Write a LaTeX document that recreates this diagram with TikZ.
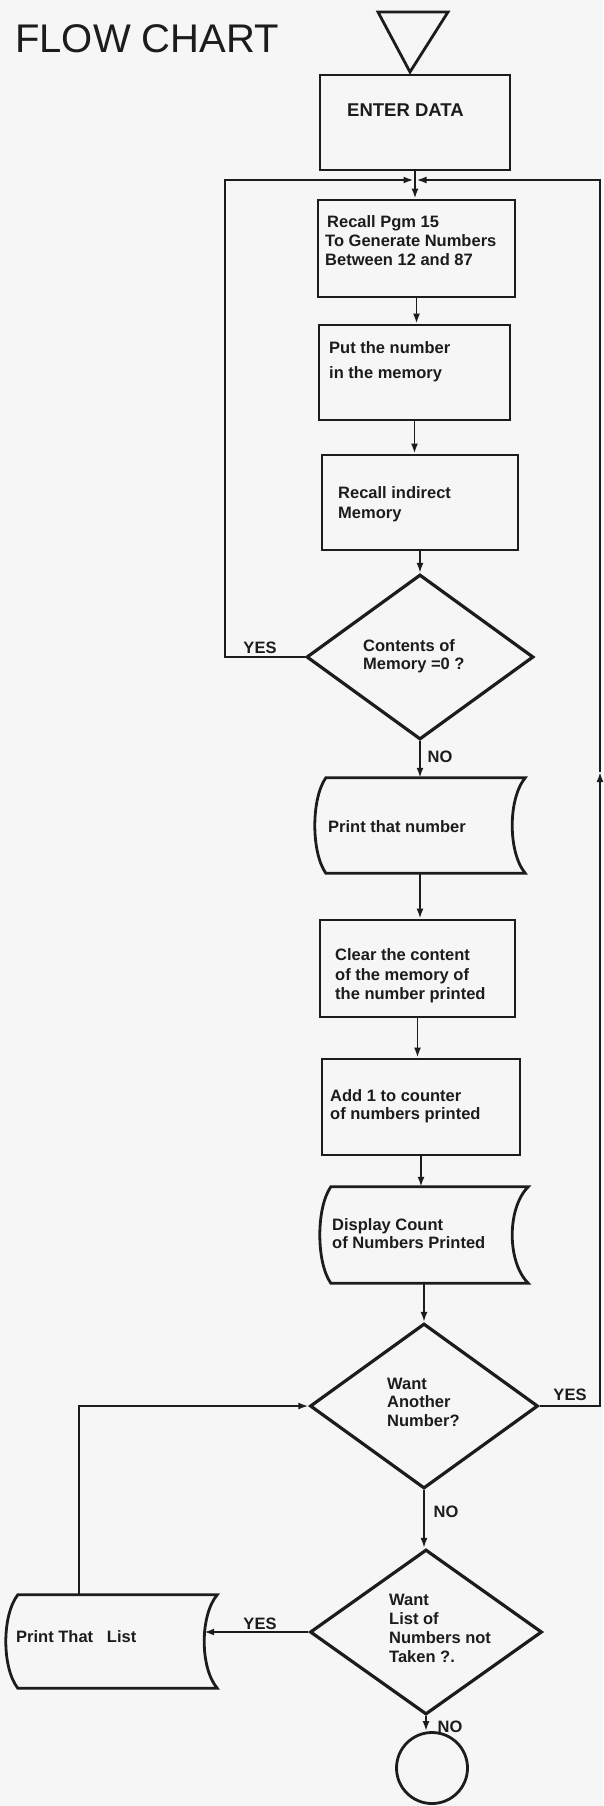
\documentclass[tikz,border=0pt]{standalone}
\usepackage{fontspec}
\setmainfont{Liberation Sans}
\usetikzlibrary{arrows.meta,calc,shapes.geometric}
\definecolor{ink}{RGB}{28,28,28}
\definecolor{paper}{RGB}{246,246,246}
\newcommand{\storedshape}[3]{%
  \draw[boxline] ($(#1.north west)+(#2,0)$) -- (#1.north east)
    .. controls ($(#1.north east)!0.22!(#1.south east)+(-1.333*#3,0)$) and ($(#1.north east)!0.78!(#1.south east)+(-1.333*#3,0)$) .. (#1.south east)
    -- ($(#1.south west)+(#2,0)$)
    .. controls ($(#1.north west)!0.78!(#1.south west)+(-0.333*#2,0)$) and ($(#1.north west)!0.22!(#1.south west)+(-0.333*#2,0)$) .. cycle;
}
\begin{document}
\begin{tikzpicture}[x=1pt,y=-1pt,
  boxline/.style={draw=ink, line width=2.8pt, line join=miter},
  proc/.style={rectangle, draw=ink, line width=2.8pt, inner sep=0pt},
  decis/.style={diamond, draw=ink, line width=3.2pt, inner sep=0pt},
  holder/.style={rectangle, inner sep=0pt},
  txt/.style={inner sep=0pt, anchor=west, align=left, text=ink, font=\fontsize{16.5}{19}\selectfont\bfseries},
  lbl/.style={inner sep=0pt, text=ink, font=\fontsize{16.5}{19}\selectfont\bfseries},
  conn/.style={draw=ink, line width=1.9pt, -{Latex[length=10pt,width=7pt]}}]
\fill[paper] (0,0) rectangle (603,1806);
\useasboundingbox (0,0) rectangle (603,1806);

\node[anchor=base west, inner sep=0pt, text=ink, font=\fontsize{40}{40}\selectfont] (title) at (15,53) {FLOW CHART};

% start symbol
\draw[boxline] (378,12) -- (448,12) -- (410,72) -- cycle;

\node[proc, minimum width=190, minimum height=95] (enter) at (415,122.5) {};
\node[txt, font=\fontsize{18.5}{20}\selectfont\bfseries] (tenter) at (347,110) {ENTER DATA};

\node[proc, minimum width=197, minimum height=97] (gen) at (416.5,248.5) {};
\node[txt] (tgen) at (325,241) {\hspace*{2pt}Recall Pgm 15\\To Generate Numbers\\Between 12 and 87};

\node[proc, minimum width=191, minimum height=95] (put) at (414.5,372.5) {};
\node[txt, font=\fontsize{16.5}{25}\selectfont\bfseries] (tput) at (329,362) {Put the number\\in the memory};

\node[proc, minimum width=196, minimum height=95] (rind) at (420,502.5) {};
\node[txt, font=\fontsize{16.5}{20}\selectfont\bfseries] (trind) at (338,504) {Recall indirect\\Memory};

\node[decis, minimum width=227, minimum height=165] (zero) at (420,657) {};
\node[txt, font=\fontsize{16.5}{18}\selectfont\bfseries] (tzero) at (363,656) {Contents of\\Memory =0 ?};

\node[holder, minimum width=210, minimum height=95] (prn) at (420,825.5) {};
\storedshape{prn}{11}{13}
\node[txt] (tprn) at (328,827) {Print that number};

\node[proc, minimum width=195, minimum height=97] (clr) at (417.5,968.5) {};
\node[txt, font=\fontsize{16.5}{19.5}\selectfont\bfseries] (tclr) at (335,976) {Clear the content\\of the memory of\\the number printed};

\node[proc, minimum width=198, minimum height=96] (add) at (421,1107) {};
\node[txt, font=\fontsize{16.5}{18}\selectfont\bfseries] (tadd) at (330,1106) {Add 1 to counter\\of numbers printed};

\node[holder, minimum width=208, minimum height=96] (disp) at (424,1235) {};
\storedshape{disp}{11}{16}
\node[txt, font=\fontsize{16.5}{18}\selectfont\bfseries] (tdisp) at (332,1234) {Display Count\\of Numbers Printed};

\node[decis, minimum width=228, minimum height=165] (another) at (424,1406) {};
\node[txt, font=\fontsize{16.5}{18.5}\selectfont\bfseries] (tanother) at (387,1402) {Want\\Another\\Number?};

\node[decis, minimum width=232, minimum height=165] (list) at (426,1632) {};
\node[txt, font=\fontsize{16.5}{19}\selectfont\bfseries] (tlist) at (389,1628) {Want\\List of\\Numbers not\\Taken ?.};

\node[holder, minimum width=211, minimum height=93] (plist) at (111.5,1641.5) {};
\storedshape{plist}{12}{13}
\node[txt] (tplist) at (16,1637) {Print That\ \ \ List};

\node[circle, draw=ink, line width=2.8pt, minimum size=71, inner sep=0pt] (stop) at (432,1768) {};

% connectors
\coordinate (J) at (415,180);
\coordinate (L) at (225,180);
\coordinate (R) at (600,180);
\coordinate (RA) at (600,772);
\draw[conn] (enter.south) -- (enter.south |- gen.north);
\draw[conn, shorten >=1.5pt] (zero.west) -| (L) -- (J);
\draw[conn] (another.east) -| (RA);
\draw[conn, shorten >=1.5pt] (RA) -- (R) -- (J);
\draw[conn] (gen.south) -- (gen.south |- put.north);
\draw[conn] (put.south) -- (put.south |- rind.north);
\draw[conn] (rind.south) -- (rind.south |- zero.north);
\draw[conn] (zero.south) -- (zero.south |- prn.north);
\draw[conn] (prn.south) -- (prn.south |- clr.north);
\draw[conn] (clr.south) -- (clr.south |- add.north);
\draw[conn] (add.south) -- (add.south |- disp.north);
\draw[conn] (disp.south) -- (disp.south |- another.north);
\draw[conn] (another.south) -- (another.south |- list.north);
\draw[conn] (list.south) -- (list.south |- stop.north);
\coordinate (plin) at ($(plist.east)+(-13,0)$);
\draw[conn] (list.west) -- (list.west -| plin);
\coordinate (pltop) at ($(plist.north west)+(73,0)$);
\draw[conn] (pltop) |- (another.west);

% branch labels
\node[lbl] (yes1) at (260,648) {YES};
\node[lbl] (no1) at (440,757) {NO};
\node[lbl] (yes2) at (570,1395) {YES};
\node[lbl] (no2) at (446,1512) {NO};
\node[lbl] (yes3) at (260,1624) {YES};
\node[lbl] (no3) at (450,1727) {NO};
\end{tikzpicture}
\end{document}
